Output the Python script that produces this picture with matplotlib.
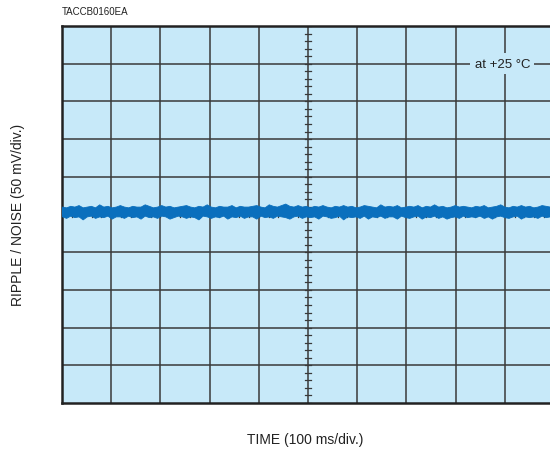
import numpy as np
import matplotlib.pyplot as plt

# time axis: 10 div x 100 ms, sampled envelope of the scope trace (mV)
time_ms = np.linspace(0, 1000, 120)
noise_upper = [
    8, 7, 9, 8, 10, 7, 8, 9, 7, 11, 8, 9, 7, 8, 10, 8, 7, 9, 8, 8,
    11, 9, 7, 8, 10, 8, 9, 7, 8, 9, 10, 8, 7, 9, 8, 11, 8, 7, 9, 8,
    8, 10, 7, 9, 8, 8, 9, 10, 8, 7, 11, 9, 8, 10, 12, 9, 8, 10, 8, 9,
    7, 9, 8, 10, 8, 7, 9, 8, 10, 8, 9, 7, 8, 10, 9, 8, 7, 11, 8, 9,
    8, 10, 7, 8, 9, 8, 10, 7, 9, 8, 11, 8, 9, 7, 8, 10, 8, 9, 8, 7,
    9, 8, 10, 7, 8, 9, 11, 8, 7, 9, 8, 10, 8, 9, 7, 8, 10, 9, 8, 8,
]
noise_lower = [
    -5, -7, -4, -6, -5, -9, -5, -4, -7, -5, -6, -4, -8, -5, -5, -7, -4, -6, -5, -8,
    -4, -6, -5, -7, -4, -5, -8, -6, -4, -5, -7, -5, -6, -9, -4, -5, -7, -5, -6, -4,
    -8, -5, -6, -4, -7, -5, -5, -8, -4, -6, -5, -7, -4, -5, -6, -8, -5, -4, -7, -5,
    -6, -5, -8, -4, -5, -7, -6, -4, -9, -5, -6, -5, -7, -4, -8, -5, -6, -4, -7, -5,
    -5, -8, -4, -6, -7, -5, -4, -8, -5, -6, -4, -7, -5, -8, -6, -5, -7, -4, -6, -5,
    -6, -4, -7, -5, -8, -5, -4, -6, -7, -5, -4, -8, -5, -6, -5, -7, -4, -6, -5, -7,
]
trace_offset_mv = 2.5

volts_per_div = 50.0
ms_per_div = 100.0

bg = "#c7e9f9"
grid_col = "#3a3a3a"
trace_col = "#0a6fbd"

fig = plt.figure(figsize=(5.5, 4.6), dpi=100)
ax = fig.add_axes([62 / 550, 56 / 460, 492 / 550, 377 / 460])
ax.set_facecolor(bg)
ax.set_xlim(0, 10)
ax.set_ylim(-5, 5)

# grid
for x in range(1, 10):
    ax.axvline(x, color=grid_col, lw=1.1, zorder=1)
for y in range(-4, 5):
    ax.axhline(y, color=grid_col, lw=1.1, zorder=1)

# center graticule ticks
minor = np.arange(-5, 5.01, 0.2)
for v in minor:
    ax.plot([4.94, 5.06], [v, v], color=grid_col, lw=0.9, zorder=1)
minor_x = np.arange(0, 10.01, 0.2)
for v in minor_x:
    ax.plot([v, v], [-0.06, 0.06], color=grid_col, lw=0.9, zorder=1)

t = time_ms / ms_per_div
up = (np.array(noise_upper) + trace_offset_mv) / volts_per_div
lo = (np.array(noise_lower) + trace_offset_mv) / volts_per_div
ax.fill_between(t, lo, up, color=trace_col, lw=0.6, edgecolor=trace_col, zorder=3)
ax.plot(t, (up + lo) / 2, color=trace_col, lw=5, zorder=3)

for s in ax.spines.values():
    s.set_color("#222222")
    s.set_linewidth(1.8)
ax.set_xticks([])
ax.set_yticks([])

ax.text(8.95, 4.0, "at +25 °C", ha="center", va="center", fontsize=9.5,
        family="Liberation Sans", color="#222222", zorder=4,
        bbox=dict(facecolor=bg, edgecolor="none", pad=3))

fig.text(62 / 550, 1 - 12 / 460, "TACCB0160EA", ha="left", va="center",
         fontsize=7, family="Liberation Sans", color="#222222")
fig.text(18 / 550, 1 - 215 / 460, "RIPPLE / NOISE (50 mV/div.)", rotation=90,
         ha="center", va="center", fontsize=10, family="Liberation Sans", color="#222222")
fig.text(305 / 550, 1 - 440 / 460, "TIME (100 ms/div.)", ha="center", va="center",
         fontsize=10, family="Liberation Sans", color="#222222")

fig.savefig("out.png", dpi=100)
